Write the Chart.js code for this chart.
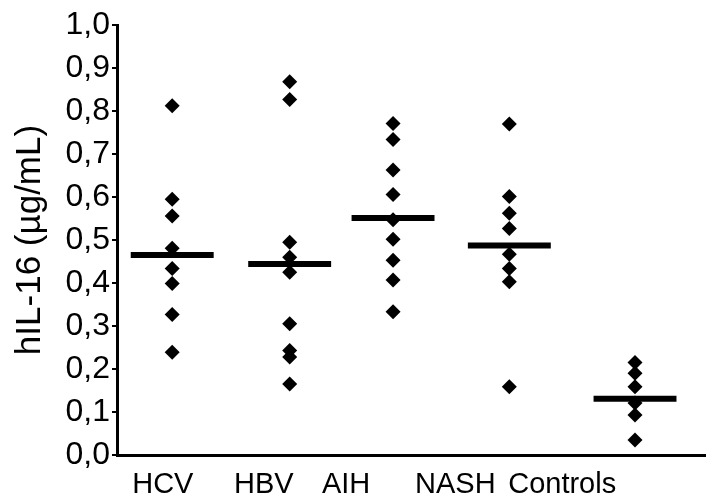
<!DOCTYPE html>
<html>
<head>
<meta charset="UTF-8">
<title>hIL-16</title>
<script src="https://cdn.jsdelivr.net/npm/chart.js@4.4.1/dist/chart.umd.min.js"></script>
<style>
  html, body { margin: 0; padding: 0; background: #fff; }
  #container { width: 713px; height: 502px; }
</style>
</head>
<body>
<div id="container">
  <canvas id="canvas"></canvas>
</div>
<script>
// groups and where each column sits on the x scale
const groups = ['HCV', 'HBV', 'AIH', 'NASH', 'Controls'];
const groupX = [1, 2, 2.88, 3.87, 4.94];
const labelX = [0.92, 1.78, 2.48, 3.41, 4.32];

// hIL-16 values per patient (µg/mL)
const hcv = [0.812, 0.595, 0.556, 0.481, 0.434, 0.399, 0.327, 0.239];
const hbv = [0.868, 0.827, 0.495, 0.46, 0.425, 0.305, 0.243, 0.228, 0.165];
const aih = [0.771, 0.734, 0.663, 0.606, 0.547, 0.502, 0.453, 0.407, 0.333];
const nash = [0.770, 0.601, 0.562, 0.527, 0.467, 0.434, 0.403, 0.159];
const controls = [0.215, 0.19, 0.159, 0.121, 0.093, 0.035];

// horizontal bar per group
const medians = [0.465, 0.444, 0.551, 0.487, 0.131];
const yTicks = [0, 0.1, 0.2, 0.3, 0.4, 0.5, 0.6, 0.7, 0.8, 0.9, 1.0];

const allValues = [hcv, hbv, aih, nash, controls];
const halfBar = 0.353;

let datasets = [];
allValues.forEach(function(vals, i) {
  datasets.push({
    type: 'line',
    data: [{x: groupX[i] - halfBar, y: medians[i]}, {x: groupX[i] + halfBar, y: medians[i]}],
    borderColor: '#000',
    borderWidth: 6,
    pointRadius: 0,
    showLine: true,
    fill: false
  });
});
allValues.forEach(function(vals, i) {
  datasets.push({
    type: 'scatter',
    data: vals.map(function(v) { return {x: groupX[i], y: v}; }),
    pointStyle: 'rectRot',
    pointRadius: 7.5,
    borderWidth: 0,
    backgroundColor: '#000'
  });
});

const fontFamily = "'Liberation Sans', Arial, sans-serif";

new Chart(document.getElementById('canvas'), {
  type: 'scatter',
  data: { datasets: datasets },
  options: {
    responsive: true,
    maintainAspectRatio: false,
    animation: false,
    events: [],
    layout: { padding: { top: 25, left: 0, right: 0, bottom: 0 } },
    plugins: {
      legend: { display: false },
      tooltip: { enabled: false }
    },
    scales: {
      x: {
        type: 'linear',
        min: 0.53,
        max: 5.54,
        afterFit: function(scale) { scale.height = 47; },
        afterBuildTicks: function(scale) {
          scale.ticks = labelX.map(function(v) { return {value: v}; });
        },
        grid: { display: false, drawTicks: false },
        border: { display: true, color: '#000', width: 3 },
        ticks: {
          autoSkip: false,
          maxRotation: 0,
          padding: 15,
          color: '#000',
          font: { family: fontFamily, size: 29, lineHeight: 1 },
          callback: function(value, index) { return groups[index]; }
        }
      },
      y: {
        min: 0,
        max: 1,
        afterFit: function(scale) { scale.width = 117; },
        afterBuildTicks: function(scale) {
          scale.ticks = yTicks.map(function(v) { return {value: v}; });
        },
        grid: {
          drawOnChartArea: false,
          drawTicks: true,
          tickLength: 5,
          lineWidth: 2,
          color: '#000'
        },
        border: { display: true, color: '#000', width: 3 },
        ticks: {
          padding: 2,
          color: '#000',
          font: { family: fontFamily, size: 32 },
          callback: function(value) { return value.toFixed(1).replace('.', ','); }
        },
        title: {
          display: true,
          text: 'hIL-16 (µg/mL)',
          color: '#000',
          padding: { top: 9, bottom: 0 },
          font: { family: fontFamily, size: 35 }
        }
      }
    }
  }
});
</script>
</body>
</html>
